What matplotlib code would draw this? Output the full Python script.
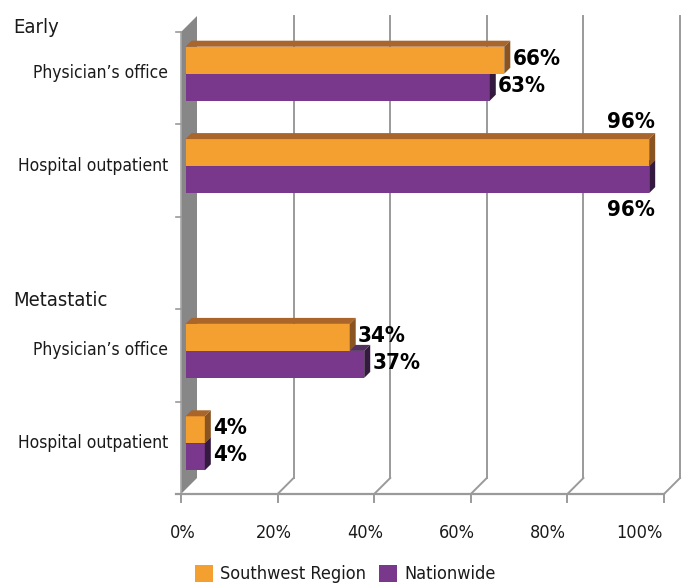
import matplotlib.pyplot as plt
from matplotlib.patches import Polygon, Rectangle

# data
groups = ["Early", "Metastatic"]
settings = ["Physician’s office", "Hospital outpatient",
            "Physician’s office", "Hospital outpatient"]
southwest = [66, 96, 34, 4]
nationwide = [63, 96, 37, 4]
rows = [0, 1, 3, 4]          # slot 2 is the empty line above "Metastatic"
ticks = [0, 20, 40, 60, 80, 100]
series = ["Southwest Region", "Nationwide"]

ORANGE, ORANGE_TOP, ORANGE_SIDE = "#F4A030", "#A9652A", "#8A5322"
PURPLE, PURPLE_TOP, PURPLE_SIDE = "#7A388C", "#52305F", "#351A40"
GRID = "#9A9A9A"
WALL = "#878787"

FONT = dict(family="DejaVu Sans", stretch="condensed")

fig = plt.figure(figsize=(6.93, 5.86), dpi=100)
ax = fig.add_axes([0, 0, 1, 1])

# one pixel in data units (x in percent, y in category slots)
PX = 100 / 483
PY = 1 / 92.4
ax.set_xlim(-181 * PX, (693 - 181) * PX)
ax.set_ylim((586 - 32) * PY, -32 * PY)
ax.axis("off")

nslot = 5
depth = 16                       # depth of the 3d box, px
dx, dy = depth * PX, -depth * PY

# side wall
ax.add_patch(Polygon([(0, 0), (dx, dy), (dx, nslot + dy), (0, nslot)],
                     closed=True, fc=WALL, ec="none", zorder=1))
ax.plot([0, 0], [0, nslot], color="#A8A8A8", lw=1.2, zorder=2)
for k in range(nslot + 1):
    ax.plot([-5 * PX, 0], [k, k], color=GRID, lw=1.2, zorder=2)

# back grid lines, floor edges and ticks
for t in ticks[1:]:
    ax.plot([t + dx, t + dx], [dy, nslot + dy], color=GRID, lw=1.4, zorder=1)
    ax.plot([t, t + dx], [nslot, nslot + dy], color=GRID, lw=1.4, zorder=1)
ax.plot([-5 * PX, 100], [nslot, nslot], color=GRID, lw=1.6, zorder=2)
for i, t in enumerate(ticks):
    ax.plot([t, t], [nslot, nslot + 8 * PY], color=GRID, lw=1.4, zorder=2)
    ax.text(t * 0.945 + 2 * PX, nslot + 39 * PY, f"{t}%", ha="center",
            va="center", fontsize=13, color="#1a1a1a", **FONT)

# bars
front = 4.5      # px depth of the bar front face
thick = 6        # px depth of the bar itself
bh = 27 * PY     # bar height


def box(val, y0, y1, fc, top, side):
    fx, fy = front * PX, -front * PY
    bx, by = thick * PX, -thick * PY
    ax.add_patch(Rectangle((fx, y0 + fy), val, y1 - y0, fc=fc, ec="none", zorder=3))
    ax.add_patch(Polygon([(fx, y0 + fy), (val + fx, y0 + fy),
                          (val + fx + bx, y0 + fy + by), (fx + bx, y0 + fy + by)],
                         closed=True, fc=top, ec="none", zorder=3))
    ax.add_patch(Polygon([(val + fx, y0 + fy), (val + fx + bx, y0 + fy + by),
                          (val + fx + bx, y1 + fy + by), (val + fx, y1 + fy)],
                         closed=True, fc=side, ec="none", zorder=3))


lab = dict(fontsize=16, fontweight="bold", color="black", **FONT)
for r, sw, nw, name in zip(rows, southwest, nationwide, settings):
    c = r + 0.5
    box(nw, c, c + bh, PURPLE, PURPLE_TOP, PURPLE_SIDE)
    box(sw, c - bh, c, ORANGE, ORANGE_TOP, ORANGE_SIDE)
    end = (front + thick) * PX
    if sw > 90:
        ax.text(sw + end, c - bh - 12 * PY, f"{sw}%", ha="right", va="bottom", **lab)
    else:
        ax.text(sw + end + 2 * PX, c - bh / 2 - 6 * PY, f"{sw}%", ha="left", va="center", **lab)
    if nw > 90:
        ax.text(nw + end, c + bh + 2 * PY, f"{nw}%", ha="right", va="top", **lab)
    else:
        ax.text(nw + end + 2 * PX, c + bh / 2 - 6 * PY, f"{nw}%", ha="left", va="center", **lab)
    ax.text(-13 * PX, c - 5 * PY, name, ha="right", va="center",
            fontsize=12.5, color="#1a1a1a", **FONT)

# group headings
for g, r in zip(groups, [rows[0], rows[2]]):
    ax.text(-168 * PX, r + 0.5 - (51 if r == 0 else 55) * PY, g, ha="left",
            va="center", fontsize=14.5, color="#1a1a1a", **FONT)

# legend
for i, (name, col) in enumerate(zip(series, [ORANGE, PURPLE])):
    x0 = (195 + 184 * i - 181) * PX
    ax.add_patch(Rectangle((x0, nslot + 71 * PY), 18 * PX, 17 * PY, fc=col, ec="none"))
    ax.text(x0 + 25 * PX, nslot + 80 * PY, name, ha="left", va="center",
            fontsize=13, color="#1a1a1a", **FONT)

fig.savefig("out.png", dpi=100)
